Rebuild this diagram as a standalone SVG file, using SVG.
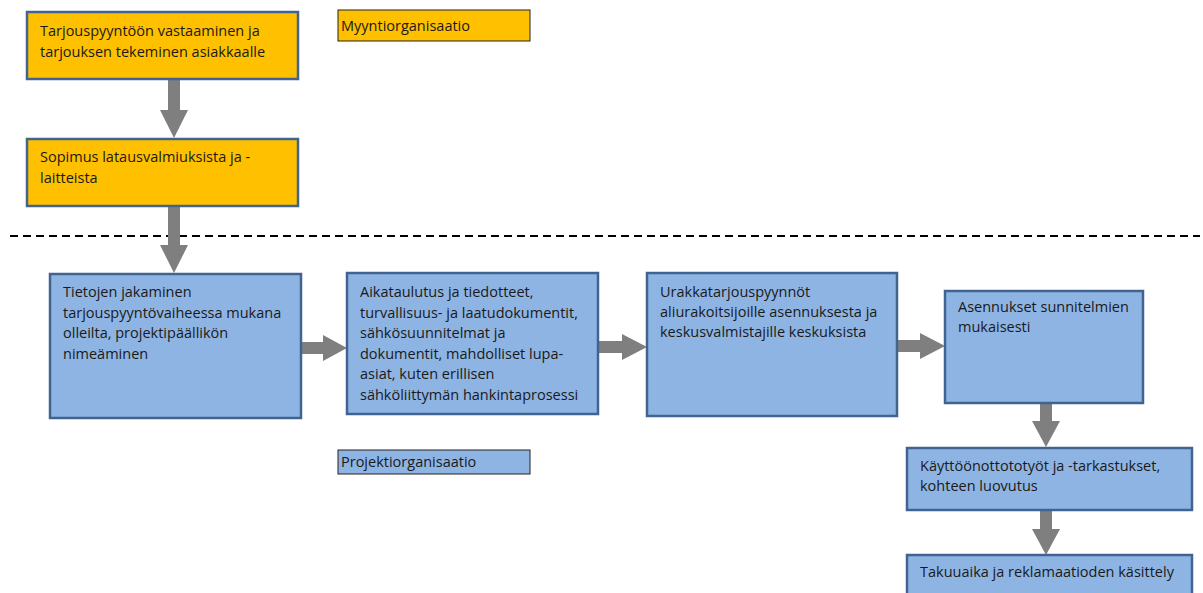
<svg xmlns="http://www.w3.org/2000/svg" width="1203" height="593" viewBox="0 0 1203 593">
<style>
.o{fill:#FFC000;stroke:#41638F;stroke-width:2.5}
.b{fill:#8EB4E3;stroke:#41638F;stroke-width:2.5}
.lo{fill:#FFC000;stroke:#222;stroke-width:1}
.lb{fill:#8EB4E3;stroke:#222;stroke-width:1}
text{font-family:"Open Sans","Liberation Sans",Arial,sans-serif;font-size:14.5px;fill:#1a1a1a}
.ar{fill:#7F7F7F}
</style>
<rect width="1203" height="593" fill="#fff"/>
<line x1="10" y1="236" x2="1200" y2="236" stroke="#000" stroke-width="2" stroke-dasharray="8,5"/>
<g id="connectors" class="ar">
<polygon points="168,79 180,79 180,110 188,110 174,138 160,110 168,110"/>
<polygon points="168,206 180,206 180,245 188,245 174,273 160,245 168,245"/>
<polygon points="301,342 323,342 323,335 347,348 323,361 323,354 301,354"/>
<polygon points="598,341 622,341 622,334 647,347 622,360 622,353 598,353"/>
<polygon points="897,340 920,340 920,333 945,346 920,359 920,352 897,352"/>
<polygon points="1040,403 1052,403 1052,421 1060,421 1046,447 1032,421 1040,421"/>
<polygon points="1040,510 1052,510 1052,529 1060,529 1046,555 1032,529 1040,529"/>
</g>
<g id="n1"><rect class="o" x="27" y="12" width="271" height="67"/><text x="40" y="36">Tarjouspyyntöön vastaaminen ja</text><text x="40" y="57">tarjouksen tekeminen asiakkaalle</text></g>
<g id="myynti"><rect class="lo" x="338" y="10" width="192" height="31"/><text x="341" y="31">Myyntiorganisaatio</text></g>
<g id="n2"><rect class="o" x="27" y="139" width="271" height="67"/><text x="40" y="162">Sopimus latausvalmiuksista ja -</text><text x="40" y="183">laitteista</text></g>
<g id="n3"><rect class="b" x="50" y="274" width="251" height="144"/><text x="63" y="297">Tietojen jakaminen</text><text x="63" y="318">tarjouspyyntövaiheessa mukana</text><text x="63" y="338">olleilta, projektipäällikön</text><text x="63" y="359">nimeäminen</text></g>
<g id="n4"><rect class="b" x="347" y="273" width="251" height="141"/><text x="360" y="297">Aikataulutus ja tiedotteet,</text><text x="360" y="318">turvallisuus- ja laatudokumentit,</text><text x="360" y="338">sähkösuunnitelmat ja</text><text x="360" y="359">dokumentit, mahdolliset lupa-</text><text x="360" y="379">asiat, kuten erillisen</text><text x="360" y="400">sähköliittymän hankintaprosessi</text></g>
<g id="n5"><rect class="b" x="647" y="273" width="250" height="143"/><text x="660" y="297">Urakkatarjouspyynnöt</text><text x="660" y="317">aliurakoitsijoille asennuksesta ja</text><text x="660" y="337">keskusvalmistajille keskuksista</text></g>
<g id="n6"><rect class="b" x="945" y="291" width="198" height="112"/><text x="958" y="312">Asennukset sunnitelmien</text><text x="958" y="332">mukaisesti</text></g>
<g id="projekti"><rect class="lb" x="338" y="450" width="192" height="24"/><text x="341" y="467">Projektiorganisaatio</text></g>
<g id="n7"><rect class="b" x="907" y="448" width="285" height="62"/><text x="920" y="471">Käyttöönottototyöt ja -tarkastukset,</text><text x="920" y="491">kohteen luovutus</text></g>
<g id="n8"><rect class="b" x="907" y="555" width="285" height="50"/><text x="920" y="577">Takuuaika ja reklamaatioden käsittely</text></g>
</svg>
